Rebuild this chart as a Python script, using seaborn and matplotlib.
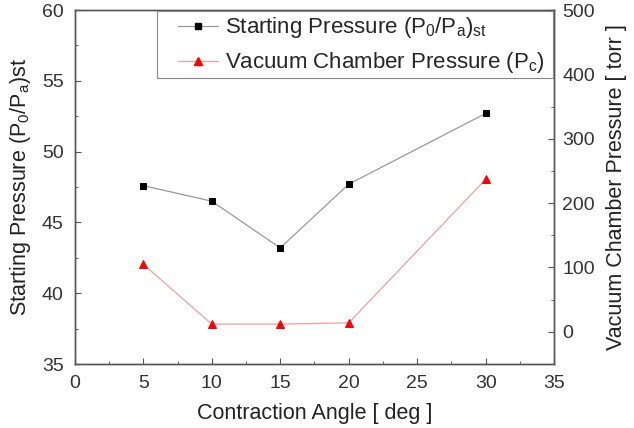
import matplotlib
matplotlib.use('Agg')
import matplotlib.pyplot as plt
import seaborn as sns
import pandas as pd
from matplotlib.ticker import MultipleLocator
from matplotlib.lines import Line2D
from matplotlib.patches import Rectangle

# 数据
angle = [5, 10, 15, 20, 30]
start_pressure = [47.6, 46.5, 43.2, 47.7, 52.7]
vacuum_pressure = [105, 12, 12, 14, 237]

df = pd.DataFrame({'angle': angle, 'start': start_pressure, 'vac': vacuum_pressure})

sns.set_style('ticks')
plt.rcParams['font.family'] = ['Liberation Sans', 'DejaVu Sans']
plt.rcParams['mathtext.fontset'] = 'custom'
plt.rcParams['mathtext.rm'] = 'Liberation Sans'
plt.rcParams['xtick.direction'] = 'in'
plt.rcParams['ytick.direction'] = 'in'

fig = plt.figure(figsize=(6.34, 4.28), dpi=100)
ax = fig.add_axes([0.118, 0.1495, 0.756, 0.827])
ax2 = ax.twinx()

black_kw = dict(color='#999999', lw=0.9, marker='s', markersize=4.8,
                markerfacecolor='black', markeredgecolor='black')
red_kw = dict(color='#f0a0a0', lw=0.9, marker='^', markersize=6,
              markerfacecolor='red', markeredgecolor='red')

sns.lineplot(data=df, x='angle', y='start', ax=ax, **black_kw)
sns.lineplot(data=df, x='angle', y='vac', ax=ax2, **red_kw)

ax.set_xlim(0, 35)
ax.set_ylim(35, 60)
ax2.set_ylim(-50, 500)
ax.xaxis.set_major_locator(MultipleLocator(5))
ax.xaxis.set_minor_locator(MultipleLocator(2.5))
ax.yaxis.set_major_locator(MultipleLocator(5))
ax.yaxis.set_minor_locator(MultipleLocator(2.5))
ax2.yaxis.set_major_locator(MultipleLocator(100))
ax2.yaxis.set_minor_locator(MultipleLocator(50))

spine_c = '#555555'
for a in (ax, ax2):
    for s in a.spines.values():
        s.set_color(spine_c)
        s.set_linewidth(1.0)
    a.tick_params(which='major', length=4, color=spine_c, labelsize=14,
                  labelcolor='#333333', pad=8)
    a.tick_params(which='minor', length=2.5, color=spine_c)
ax2.tick_params(which='major', pad=6)

ax.set_xlabel('Contraction Angle [ deg ]', fontsize=15.5, color='#222222', labelpad=8)
ax.set_ylabel(r'Starting Pressure (P$\mathregular{_0}$/P$\mathregular{_a}$)st',
              fontsize=15.5, color='#222222', labelpad=6)
ax2.set_ylabel('Vacuum Chamber Pressure [ torr ]', fontsize=15.5, color='#222222', labelpad=8)

# 图例外框（手动画）
box = Rectangle((0.171, 0.808), 0.827, 0.189, transform=ax2.transAxes,
                facecolor='white', edgecolor='#888888', lw=0.8, zorder=5)
ax2.add_patch(box)

handles = [Line2D([], [], **black_kw), Line2D([], [], **red_kw)]
labels = [r'Starting Pressure (P$\mathregular{_0}$/P$\mathregular{_a}$)$\mathregular{_{st}}$',
          r'Vacuum Chamber Pressure (P$\mathregular{_c}$)']
leg = ax2.legend(handles, labels, loc='upper left', bbox_to_anchor=(0.215, 0.985),
                 fontsize=16, frameon=False, handlelength=1.8, handletextpad=0.3,
                 borderaxespad=0, borderpad=0, labelspacing=0.45)
leg.set_zorder(6)

fig.savefig('out.png', dpi=100)
